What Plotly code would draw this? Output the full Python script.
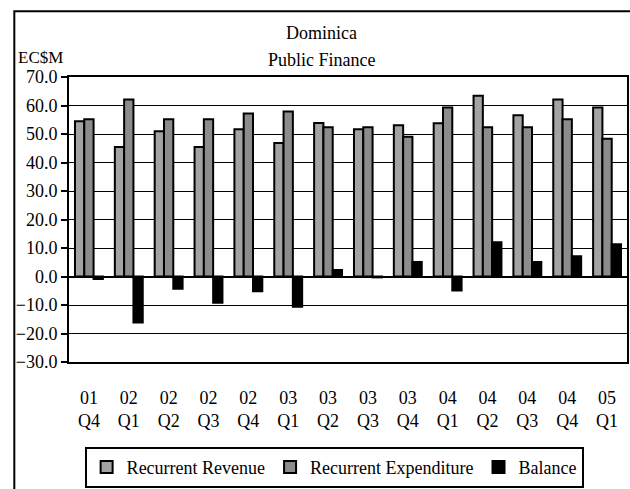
import plotly.graph_objects as go

# Quarterly public finance figures, EC$ millions
quarters = ["01 Q4", "02 Q1", "02 Q2", "02 Q3", "02 Q4", "03 Q1", "03 Q2",
            "03 Q3", "03 Q4", "04 Q1", "04 Q2", "04 Q3", "04 Q4", "05 Q1"]
recurrent_revenue = [54.5, 45.4, 51.0, 45.4, 51.7, 46.8, 53.9,
                     51.7, 53.1, 53.8, 63.4, 56.6, 62.1, 59.3]
recurrent_expenditure = [55.2, 62.1, 55.2, 55.2, 57.2, 57.9, 52.4,
                         52.4, 49.0, 59.3, 52.4, 52.4, 55.2, 48.3]
balance = [-0.9, -16.1, -4.3, -9.2, -5.2, -10.6, 2.3,
           -0.3, 5.1, -4.9, 12.0, 5.1, 7.1, 11.3]

tick_text = [q.replace(" ", "<br>") for q in quarters]

FONT = "Liberation Serif, Times New Roman, serif"
outline = dict(color="black", width=2)

fig = go.Figure()
fig.add_trace(go.Bar(name="Recurrent Revenue", x=quarters, y=recurrent_revenue,
                     marker=dict(color="#a3a3a3", line=outline)))
fig.add_trace(go.Bar(name="Recurrent Expenditure", x=quarters, y=recurrent_expenditure,
                     marker=dict(color="#8c8c8c", line=outline)))
fig.add_trace(go.Bar(name="Balance", x=quarters, y=balance,
                     marker=dict(color="black", line=outline)))

fig.update_layout(
    width=630, height=489,
    margin=dict(l=69, r=1, t=77, b=122),
    paper_bgcolor="white", plot_bgcolor="white",
    font=dict(family=FONT, size=18, color="black"),
    barmode="group", bargap=0.3, bargroupgap=0,
    showlegend=True,
    legend=dict(orientation="h", x=0.028, xanchor="left", y=-0.2976, yanchor="top",
                bordercolor="black", borderwidth=2, bgcolor="white",
                font=dict(family=FONT, size=18, color="black"),
                traceorder="normal"),
    xaxis=dict(type="category", tickvals=quarters, ticktext=tick_text,
               showgrid=False, ticks="", ticklabelstandoff=18,
               showline=True, linecolor="black", linewidth=2, mirror=True,
               tickfont=dict(family=FONT, size=18, color="black")),
    yaxis=dict(range=[-30, 70], dtick=10, tick0=0, tickformat=".1f",
               ticks="outside", ticklen=6, tickwidth=1.5, tickcolor="black",
               showline=True, linecolor="black", linewidth=2, mirror=True,
               showgrid=True, gridcolor="black", gridwidth=1,
               zeroline=True, zerolinecolor="black", zerolinewidth=2,
               tickfont=dict(family=FONT, size=18, color="black")),
    shapes=[dict(type="rect", xref="paper", yref="paper",
                 x0=-0.098, x1=1.3, y0=-0.6, y1=1.231,
                 line=dict(color="black", width=2), fillcolor="rgba(0,0,0,0)",
                 layer="below")],
    annotations=[
        dict(text="Dominica", xref="paper", yref="paper", x=0.452, y=1.155,
             xanchor="center", yanchor="middle", showarrow=False,
             font=dict(family=FONT, size=18, color="black")),
        dict(text="Public Finance", xref="paper", yref="paper", x=0.452, y=1.0586,
             xanchor="center", yanchor="middle", showarrow=False,
             font=dict(family=FONT, size=18, color="black")),
        dict(text="EC$M", xref="paper", yref="paper", x=-0.0518, y=1.0686,
             xanchor="center", yanchor="middle", showarrow=False,
             font=dict(family=FONT, size=17, color="black")),
    ],
)

fig.write_html("out.html")
